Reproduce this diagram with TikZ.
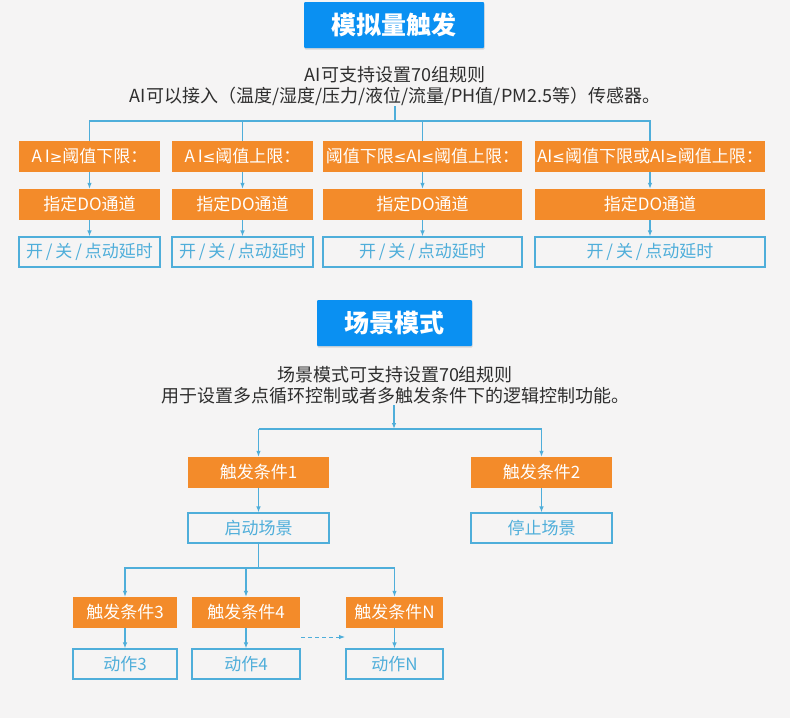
\documentclass[tikz,border=0pt]{standalone}
\usepackage{fontspec}
\setmainfont{Noto Sans CJK SC}
\newfontfamily\relfont{DejaVu Sans}
\newcommand{\relge}{{\relfont\fontsize{15}{18}\selectfont ≥}}
\newcommand{\relle}{{\relfont\fontsize{15}{18}\selectfont ≤}}
\definecolor{myorange}{HTML}{F38B2A}
\definecolor{myblue}{HTML}{0A90F2}
\definecolor{mylineblue}{HTML}{4FAEDA}
\definecolor{mybg}{HTML}{F5F4F4}
\definecolor{mytext}{HTML}{2E2E2E}
\usetikzlibrary{positioning, arrows.meta, shadows, calc}
\tikzset{
	titlenode/.style={
			fill=myblue,
			text=white,
			font=\fontsize{25}{30}\selectfont\bfseries,
			minimum width=180pt,
			minimum height=46pt,
			inner sep=0pt,
			rounded corners=1pt,
			drop shadow={opacity=0.25, shadow xshift=0.5pt, shadow yshift=-1.5pt}
		},
	descnode/.style={
			text=mytext,
			align=center,
			font=\fontsize{18}{21}\selectfont,
			inner sep=0pt
		},
	condnode/.style={
			fill=myorange,
			text=white,
			font=\fontsize{17}{20}\selectfont,
			minimum height=31pt,
			inner sep=0pt
		},
	actnode/.style={
			draw=mylineblue,
			line width=1.1pt,
			text=mylineblue,
			font=\fontsize{17}{20}\selectfont,
			minimum height=30pt,
			inner sep=0pt
		},
	link/.style={
			draw=mylineblue,
			line width=1.1pt
		},
	linkarrow/.style={
			link,
			-{Latex[length=6pt, width=4.5pt]}
		}
}

\begin{document}
\begin{tikzpicture}[x=1pt, y=-1pt]
	\fill[mybg] (0,0) rectangle (790,718);
	\useasboundingbox (0,0) rectangle (790,718);

	% analog trigger
	\node[titlenode] (title1) at (394,25) {模拟量触发};
	\node[descnode] (desc1) at (395,86) {AI可支持设置70组规则\\AI可以接入（温度/湿度/压力/液位/流量/PH值/PM2.5等）传感器。};
	\coordinate (h1) at (395,121);

	\node[condnode, minimum width=141pt] (c1) at (89.5,156.5) {A\,I\relge 阈值下限：};
	\node[condnode, minimum width=141pt] (c2) at (242.5,156.5) {A\,I\relle 阈值上限：};
	\node[condnode, minimum width=199pt] (c3) at (422.5,156.5) {阈值下限\relle AI\relle 阈值上限：};
	\node[condnode, minimum width=230pt] (c4) at (650,156.5) {AI\relle 阈值下限或AI\relge 阈值上限：};

	\node[condnode, minimum width=141pt] (d1) at (89.5,204.5) {指定DO通道};
	\node[condnode, minimum width=141pt] (d2) at (242.5,204.5) {指定DO通道};
	\node[condnode, minimum width=199pt] (d3) at (422.5,204.5) {指定DO通道};
	\node[condnode, minimum width=230pt] (d4) at (650,204.5) {指定DO通道};

	\node[actnode, minimum width=141pt] (o1) at (89.5,252) {开\,/\,关\,/\,点动延时};
	\node[actnode, minimum width=141pt] (o2) at (242.5,252) {开\,/\,关\,/\,点动延时};
	\node[actnode, minimum width=199pt] (o3) at (422.5,252) {开\,/\,关\,/\,点动延时};
	\node[actnode, minimum width=230pt] (o4) at (650,252) {开\,/\,关\,/\,点动延时};

	\draw[link] (desc1.south |- 0,106) -- (h1);
	\draw[link] (c1.north) -- (c1.north |- h1) -- (c4.north |- h1) -- (c4.north);
	\draw[link] (c2.north) -- (c2.north |- h1);
	\draw[link] (c3.north) -- (c3.north |- h1);
	\foreach \i in {1,...,4} {
		\draw[linkarrow] (c\i) -- (d\i);
		\draw[linkarrow] (d\i) -- (o\i);
	}

	% scene mode
	\node[titlenode, minimum width=155pt] (title2) at (394.5,323) {场景模式};
	\node[descnode] (desc2) at (395,385.5) {场景模式可支持设置70组规则\\用于设置多点循环控制或者多触发条件下的逻辑控制功能。};
	\coordinate (h2) at (394,429);

	\node[condnode, minimum width=141pt] (t1) at (258.5,472.5) {触发条件1};
	\node[condnode, minimum width=141pt] (t2) at (541.5,472.5) {触发条件2};
	\node[actnode, minimum width=141pt] (s1) at (258.5,528) {启动场景};
	\node[actnode, minimum width=141pt] (s2) at (541.5,528) {停止场景};

	\draw[linkarrow] (h2 |- 0,405) -- (h2);
	\draw[linkarrow] (t1.north |- h2) -- (t1.north);
	\draw[linkarrow] (h2) -- (t2.north |- h2) -- (t2.north);
	\draw[link] (h2) -- (t1.north |- h2);
	\draw[linkarrow] (t1) -- (s1);
	\draw[linkarrow] (t2) -- (s2);

	\coordinate (h3) at (258.5,568);
	\node[condnode, minimum width=104pt] (t3) at (125,612.5) {触发条件3};
	\node[condnode, minimum width=108pt] (t4) at (246,612.5) {触发条件4};
	\node[condnode, minimum width=97pt] (tn) at (394.5,612.5) {触发条件N};
	\node[actnode, minimum width=104pt] (a3) at (125,664) {动作3};
	\node[actnode, minimum width=108pt] (a4) at (246,664) {动作4};
	\node[actnode, minimum width=97pt] (an) at (394.5,664) {动作N};

	\draw[link] (s1.south) -- (h3);
	\draw[linkarrow] (h3) -- (t3.north |- h3) -- (t3.north);
	\draw[linkarrow] (h3) -- (tn.north |- h3) -- (tn.north);
	\draw[linkarrow] (t4.north |- h3) -- (t4.north);
	\foreach \k in {3,4,n} {
		\draw[linkarrow] (t\k) -- (a\k);
	}
	\coordinate (dots) at (301,637);
	\coordinate (dote) at (345,637);
	\draw[linkarrow, line width=0.9pt, dash pattern=on 4pt off 3pt] (dots) -- (dote);
\end{tikzpicture}
\end{document}
